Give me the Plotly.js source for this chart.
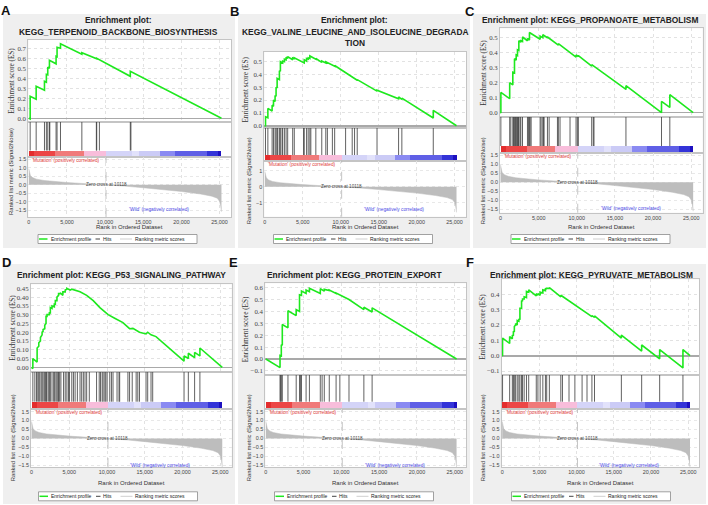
<!DOCTYPE html>
<html><head><meta charset="utf-8">
<script src="https://cdn.plot.ly/plotly-3.0.1.min.js"></script>
<style>html,body{margin:0;padding:0;background:#fff;}#chart{width:708px;height:505px;}</style>
</head><body><div id="chart"></div>
<script>
// ---------------- DATA ----------------
const ZERO_CROSS = 10118;
const metricRank  = [0, 60, 200, 500, 1000, 2000, 3000, 5000, 7500, 10118, 12500, 15000, 17500, 20000, 22500, 24000, 24700, 25000, 25150, 25250];
const metricScore = [0.95, 0.72, 0.55, 0.42, 0.33, 0.25, 0.2, 0.13, 0.06, 0, -0.08, -0.18, -0.28, -0.4, -0.55, -0.68, -0.8, -0.98, -1.25, -1.6];
const bandEdges  = [0, 700, 3450, 7200, 10120, 13500, 14450, 17180, 19140, 23350, 24850, 25250];
const bandColors = ['#e32d2d', '#ec4646', '#f07a7a', '#f8bddb', '#d4d4f8', '#e2e2fb', '#cbcbf6', '#8a8af2', '#5f5fe6', '#3333d8', '#1d10c0'];

const titleA = ['Enrichment plot:', 'KEGG_TERPENOID_BACKBONE_BIOSYNTHESIS'];
const titleB = ['Enrichment plot:', 'KEGG_VALINE_LEUCINE_AND_ISOLEUCINE_DEGRADA', 'TION'];
const titleC = ['Enrichment plot: KEGG_PROPANOATE_METABOLISM'];
const titleD = ['Enrichment plot: KEGG_P53_SIGNALING_PATHWAY'];
const titleE = ['Enrichment plot: KEGG_PROTEIN_EXPORT'];
const titleF = ['Enrichment plot: KEGG_PYRUVATE_METABOLISM'];

const esRankA  = [0, 175, 175, 960, 960, 2050, 2050, 2300, 2300, 2480, 2480, 2700, 2700, 3570, 3570, 3700, 3700, 4150, 4150, 6950, 6950, 8900, 8900, 13300, 13300, 25250];
const esScoreA = [0, -0.007, 0.22, 0.19, 0.32, 0.28, 0.37, 0.36, 0.44, 0.435, 0.51, 0.50, 0.58, 0.545, 0.62, 0.615, 0.71, 0.70, 0.745, 0.64, 0.655, 0.595, 0.60, 0.42, 0.47, 0];
const hitsA = [175, 960, 2050, 2300, 2480, 2700, 2750, 3570, 3700, 4150, 6950, 8850, 8900, 9250, 13300, 13380];

const esRankB  = [0,90,90,400,400,960,960,1140,1140,1350,1350,1480,1480,1620,1620,1920,1920,2050,2050,2350,2350,2580,2580,2800,2800,3010,3010,3670,3670,3880,3880,5190,5190,5500,5500,5710,5710,5930,5930,6720,6720,7500,7500,8030,8030,9200,9200,12170,12170,14780,14780,17620,17620,18050,18050,22190,22190,25250];
const esScoreB = [0,-0.004,0.07,0.062,0.135,0.115,0.16,0.152,0.2,0.19,0.235,0.23,0.30,0.295,0.37,0.36,0.43,0.425,0.5,0.49,0.505,0.5,0.52,0.515,0.535,0.525,0.54,0.515,0.53,0.525,0.53,0.49,0.515,0.505,0.525,0.52,0.53,0.525,0.545,0.52,0.525,0.495,0.505,0.49,0.5,0.465,0.47,0.355,0.36,0.27,0.277,0.21,0.225,0.205,0.215,0.06,0.12,0];
const hitsB = [90, 400, 960, 1140, 1350, 1480, 1620, 1700, 1920, 2050, 2270, 2350, 2580, 2800, 3010, 3670, 3880, 5100, 5190, 5500, 5710, 5930, 6060, 6720, 7500, 8030, 8240, 8900, 9200, 10640, 11510, 11820, 12170, 14780, 17620, 18050, 22190];

const esRankC  = [0,44,44,1200,1200,1610,1610,1830,1830,2050,2050,2220,2220,2400,2400,2660,2660,2880,2880,3530,3530,3790,3790,5190,5190,5540,5540,6150,6150,7580,7580,9900,9900,10200,10200,11950,11950,16440,16440,21100,21100,22190,22190,25250];
const esScoreC = [0,-0.002,0.135,0.093,0.2,0.185,0.27,0.265,0.36,0.35,0.385,0.38,0.42,0.415,0.48,0.47,0.48,0.475,0.505,0.48,0.495,0.485,0.535,0.49,0.51,0.5,0.52,0.5,0.505,0.45,0.46,0.37,0.385,0.375,0.38,0.31,0.32,0.155,0.18,0,0.075,0.035,0.12,0];
const hitsC = [44, 1200, 1350, 1610, 1700, 1830, 1960, 2050, 2140, 2220, 2350, 2400, 2570, 2660, 2880, 3530, 3660, 3790, 3880, 4010, 5190, 5320, 5540, 5620, 5710, 6150, 6370, 7460, 7580, 7800, 9110, 9900, 10070, 10200, 11950, 12160, 12250, 16440, 21100, 22190];

const esRankD  = [0,175,175,740,740,960,960,1180,1180,1400,1400,1530,1530,1750,1750,1920,1920,2050,2050,2360,2360,2490,2490,2710,2710,3015,3015,3150,3150,3365,3365,3580,3580,3800,3800,4150,4150,4460,4460,4680,4680,5110,5330,5770,6420,7300,8170,9050,10140,11010,12100,12980,13420,14290,15160,15380,15820,16480,20190,20190,20760,20760,21590,21590,22290,22290,25250];
const esScoreD = [0,-0.007,0.05,0.03,0.11,0.12,0.14,0.15,0.17,0.185,0.2,0.205,0.215,0.22,0.24,0.25,0.29,0.29,0.30,0.3,0.31,0.31,0.34,0.335,0.35,0.345,0.36,0.36,0.38,0.38,0.40,0.41,0.42,0.42,0.425,0.41,0.43,0.43,0.44,0.445,0.45,0.44,0.445,0.44,0.43,0.41,0.38,0.34,0.30,0.28,0.255,0.22,0.222,0.2,0.19,0.2,0.185,0.175,0.035,0.065,0.05,0.08,0.055,0.085,0.065,0.11,0];
const hitsD = [175, 440, 660, 830, 960, 1090, 1270, 1400, 1530, 1700, 1840, 1970, 2050, 2270, 2400, 2490, 2710, 2930, 3060, 3230, 3370, 3500, 3580, 3720, 3890, 4240, 4460, 4680, 4890, 5030, 5330, 5550, 5770, 6070, 6420, 6640, 6860, 7080, 7300, 7650, 8610, 8960, 9130, 9350, 9480, 9700, 9830, 10010, 10360, 10580, 10790, 11320, 11580, 11670, 12760, 12980, 13330, 13850, 14070, 14290, 15160, 15380, 15820, 16040, 20190, 20760, 21590, 22290];

const esRankE  = [0,1880,1880,2050,2050,2180,2180,2930,2930,4020,4020,4460,4460,4720,4720,5330,5330,5770,5770,7210,7210,7740,7740,8400,8400,9300,9300,11010,12980,12980,14070,14070,25250];
const esScoreE = [0,-0.072,0.03,0.025,0.12,0.115,0.29,0.262,0.405,0.365,0.415,0.4,0.54,0.535,0.57,0.55,0.58,0.565,0.595,0.55,0.59,0.57,0.585,0.575,0.58,0.55,0.555,0.5,0.415,0.435,0.395,0.43,0];
const hitsE = [1880, 1960, 2050, 2180, 2930, 4020, 4460, 4600, 4720, 5330, 5770, 7210, 7450, 7740, 8400, 9300, 9800, 11010, 12980, 14070];

const esRankF  = [0,44,44,1000,1000,1360,1360,1500,1500,1630,1630,1800,1800,2020,2020,2240,2240,2380,2380,2600,2600,2730,2730,2950,2950,3260,3260,3560,3560,4580,4580,4800,4800,5100,5100,5460,5460,5810,5810,5980,5980,6340,6340,7880,7880,12060,12060,12410,12410,16020,16020,18750,18750,21170,21170,24300,24300,25250];
const esScoreF = [0,-0.002,0.115,0.08,0.125,0.11,0.135,0.13,0.16,0.155,0.19,0.2,0.21,0.2,0.23,0.225,0.24,0.235,0.31,0.31,0.36,0.355,0.37,0.37,0.385,0.38,0.42,0.415,0.43,0.39,0.405,0.395,0.405,0.395,0.415,0.41,0.43,0.425,0.44,0.435,0.44,0.44,0.445,0.385,0.395,0.255,0.262,0.25,0.26,0.115,0.135,0.03,0.07,-0.02,0.04,-0.08,0.04,0];
const hitsF = [44, 1000, 1360, 1500, 1630, 1800, 2020, 2240, 2380, 2600, 2730, 2950, 3260, 3560, 4580, 4800, 5100, 5460, 5810, 5980, 6340, 7880, 8100, 8980, 9770, 10740, 11400, 12060, 12410, 16020, 18750, 21170, 24300];

// ---------------- LAYOUT GEOMETRY (pixels) ----------------
const W = 708, H = 505;
const X_RANGE = [-70, 26500];
const SANS = 'Liberation Sans, Arial, sans-serif';
const SERIF = 'Liberation Serif, Times New Roman, serif';

const panels = [
  {letter:'A', title:titleA, esR:esRankA, esS:esScoreA, hits:hitsA,
   g:{left:28.3,right:231,esTop:39.5,esBot:122,bandTop:150.5,metTop:157,metBot:217,esRange:[-0.037,0.788],esDtick:0.1,esFmt:'.1f',metRange:[-1.91,1.64],metDtick:0.5,metFmt:'.1f',titleX:118,titleY:[20,32],esTitleX:12,metTitleX:11,metTitleY:172,xTitleY:227,legX:38,legY:239,wildY:209.3,bg:[3,14,235,248],letterXY:[6,10.5]}},
  {letter:'B', title:titleB, esR:esRankB, esS:esScoreB, hits:hitsB,
   g:{left:264.3,right:466,esTop:51.7,esBot:127.5,bandTop:155,metTop:160.7,metBot:216.7,esRange:[-0.014,0.578],esDtick:0.1,esFmt:'.1f',metRange:[-1.87,1.62],metDtick:1,metFmt:'d',titleX:355,titleY:[20,32,43],esTitleX:246,metTitleX:249.3,metTitleY:181,xTitleY:226.7,legX:273.5,legY:239,wildY:209.3,bg:[238,14,470,248],letterXY:[234,11]}},
  {letter:'C', title:titleC, esR:esRankC, esS:esScoreC, hits:hitsC,
   g:{left:500,right:702.7,esTop:28.3,esBot:116.7,bandTop:146,metTop:153.3,metBot:212.7,esRange:[-0.027,0.563],esDtick:0.1,esFmt:'.1f',metRange:[-1.68,1.6],metDtick:0.5,metFmt:'.1f',titleX:590,titleY:[20],esTitleX:483.3,metTitleX:483.3,metTitleY:181,xTitleY:227.3,legX:511,legY:239,wildY:208.3,bg:[473,14,706,248],letterXY:[470,11]}},
  {letter:'D', title:titleD, esR:esRankD, esS:esScoreD, hits:hitsD,
   g:{left:31,right:231.7,esTop:284.3,esBot:371.7,bandTop:401.7,metTop:409.3,metBot:467,esRange:[-0.025,0.473],esDtick:0.05,esFmt:'.2f',metRange:[-1.6,1.63],metDtick:0.5,metFmt:'.1f',titleX:121.7,titleY:[275],esTitleX:12.7,metTitleX:13.3,metTitleY:438,xTitleY:483.3,legX:38.5,legY:496.3,wildY:465,bg:[3,264,235,504],letterXY:[6,262.5]}},
  {letter:'E', title:titleE, esR:esRankE, esS:esScoreE, hits:hitsE,
   g:{left:265.3,right:466,esTop:283.3,esBot:375,bandTop:401.7,metTop:409.3,metBot:467,esRange:[-0.134,0.636],esDtick:0.1,esFmt:'.1f',metRange:[-1.6,1.63],metDtick:0.5,metFmt:'.1f',titleX:354,titleY:[275],esTitleX:246,metTitleX:249.3,metTitleY:438,xTitleY:483.3,legX:274.5,legY:496.3,wildY:465,bg:[238,264,470,504],letterXY:[233,262]}},
  {letter:'F', title:titleF, esR:esRankF, esS:esScoreF, hits:hitsF,
   g:{left:501.7,right:699.3,esTop:279.3,esBot:375,bandTop:401.7,metTop:409.3,metBot:467,esRange:[-0.126,0.499],esDtick:0.1,esFmt:'.1f',metRange:[-1.6,1.63],metDtick:0.5,metFmt:'.1f',titleX:591.7,titleY:[275],esTitleX:482.7,metTitleX:483.3,metTitleY:438,xTitleY:483.3,legX:511.5,legY:496.3,wildY:465,bg:[473,264,706,504],letterXY:[470,262]}}
];

const fx = p => p / W;
const fy = p => 1 - p / H;
const sfx = n => (n === 1 ? '' : String(n));

const traces = [];
const layout = {
  width: W, height: H, margin: {l:0, r:0, t:0, b:0},
  paper_bgcolor: '#ffffff', plot_bgcolor: '#ffffff',
  showlegend: false, font: {family: SANS, color: '#333'},
  shapes: [], annotations: [], bargap: 0
};

function ann(o) { layout.annotations.push(Object.assign({showarrow:false, xref:'paper', yref:'paper'}, o)); }

panels.forEach((p, i) => {
  const g = p.g;
  const kE = i*3 + 1, kH = i*3 + 2, kM = i*3 + 3;
  const dom = [fx(g.left), fx(g.right)];
  const border = {showline:true, mirror:true, linecolor:'#c4c4c4', linewidth:1, zeroline:false, fixedrange:true};

  layout.shapes.push({type:'rect', xref:'paper', yref:'paper', layer:'below', x0:fx(g.bg[0]), x1:fx(g.bg[2]), y0:fy(g.bg[3]), y1:fy(g.bg[1]), fillcolor:'#efefef', line:{width:0}});
  layout.shapes.push({type:'rect', xref:'paper', yref:'paper', layer:'below', x0:dom[0], x1:dom[1], y0:fy(g.metBot), y1:fy(g.esTop), fillcolor:'#ffffff', line:{width:0}});

  layout['xaxis'+sfx(kE)] = Object.assign({}, border, {domain:dom, range:X_RANGE, anchor:'y'+sfx(kE), showticklabels:false, ticks:'', showgrid:true, gridcolor:'#e2e2e2', griddash:'dot', gridwidth:1, tick0:0, dtick:5000});
  layout['yaxis'+sfx(kE)] = Object.assign({}, border, {domain:[fy(g.esBot), fy(g.esTop)], range:g.esRange, anchor:'x'+sfx(kE), tick0:0, dtick:g.esDtick, tickformat:g.esFmt, ticks:'', showgrid:true, gridcolor:'#e2e2e2', griddash:'dot', zeroline:true, zerolinecolor:'#a9a9a9', zerolinewidth:1.6, tickfont:{family:SERIF, size:6.8, color:'#444'}});
  layout['xaxis'+sfx(kH)] = Object.assign({}, border, {domain:dom, range:X_RANGE, anchor:'y'+sfx(kH), showticklabels:false, ticks:'', showgrid:false});
  layout['yaxis'+sfx(kH)] = Object.assign({}, border, {domain:[fy(g.metTop), fy(g.esBot)], range:[0,1], anchor:'x'+sfx(kH), showticklabels:false, ticks:'', showgrid:false});
  layout['xaxis'+sfx(kM)] = Object.assign({}, border, {domain:dom, range:X_RANGE, anchor:'y'+sfx(kM), tick0:0, dtick:5000, tickformat:',', ticks:'', showgrid:true, gridcolor:'#e2e2e2', griddash:'dot', tickfont:{family:SANS, size:5.4, color:'#444'}});
  layout['yaxis'+sfx(kM)] = Object.assign({}, border, {domain:[fy(g.metBot), fy(g.metTop)], range:g.metRange, anchor:'x'+sfx(kM), tick0:0, dtick:g.metDtick, tickformat:g.metFmt, ticks:'', showgrid:true, gridcolor:'#e8e8e8', griddash:'dot', tickfont:{family:SANS, size:5.4, color:'#444'}});

  const bandFrac = (g.metTop - g.bandTop) / (g.metTop - g.esBot);

  traces.push({type:'scatter', mode:'lines', x:p.esR, y:p.esS, xaxis:'x'+sfx(kE), yaxis:'y'+sfx(kE), line:{color:'#1ee81e', width:1.6}, hoverinfo:'skip'});
  const hx = [], hy = [];
  p.hits.forEach(h => { hx.push(h, h, null); hy.push(bandFrac, 1, null); });
  traces.push({type:'scatter', mode:'lines', x:hx, y:hy, xaxis:'x'+sfx(kH), yaxis:'y'+sfx(kH), line:{color:'#3a3a3a', width:0.8}, hoverinfo:'skip'});
  const mids = [], widths = [], hts = [];
  for (let j = 0; j < bandColors.length; j++) {
    mids.push((bandEdges[j] + bandEdges[j+1]) / 2);
    widths.push(bandEdges[j+1] - bandEdges[j]);
    hts.push(bandFrac);
  }
  traces.push({type:'bar', x:mids, y:hts, width:widths, base:0, xaxis:'x'+sfx(kH), yaxis:'y'+sfx(kH), marker:{color:bandColors, line:{width:0}}, hoverinfo:'skip'});
  traces.push({type:'scatter', mode:'lines', x:metricRank, y:metricScore, fill:'tozeroy', fillcolor:'#bdbdbd', xaxis:'x'+sfx(kM), yaxis:'y'+sfx(kM), line:{color:'#bdbdbd', width:0.5}, hoverinfo:'skip'});

  layout.shapes.push({type:'line', xref:'x'+sfx(kM), yref:'y'+sfx(kM)+' domain', x0:ZERO_CROSS, x1:ZERO_CROSS, y0:0, y1:1, line:{color:'#b5b5b5', width:0.8, dash:'dash'}});
  ann({xref:'x'+sfx(kM), yref:'y'+sfx(kM), x:ZERO_CROSS, y:0, text:'Zero cross at '+ZERO_CROSS, font:{size:4.6, color:'#444'}, xanchor:'center', yanchor:'middle'});
  ann({xref:'x'+sfx(kM)+' domain', x:0.01, y:fy(g.metTop+3.3), text:"'Mutation' (positively correlated)", font:{size:4.8, color:'#e03a3a'}, xanchor:'left', yanchor:'middle'});
  ann({xref:'x'+sfx(kM)+' domain', x:0.645, y:fy(g.wildY), text:"'Wild' (negatively correlated)", font:{size:4.8, color:'#4a4ae6'}, xanchor:'center', yanchor:'middle'});

  p.title.forEach((t, j) => ann({x:fx(g.titleX), y:fy(g.titleY[j]), text:'<b>'+t+'</b>', font:{size:8.4, color:'#222'}, xanchor:'center', yanchor:'middle'}));
  ann({x:fx(g.esTitleX), y:fy((g.esTop+g.esBot)/2), text:'Enrichment score (ES)', textangle:-90, font:{family:SERIF, size:7.2, color:'#333'}, xanchor:'center', yanchor:'middle'});
  ann({x:fx(g.metTitleX), y:fy(g.metTitleY), text:'Ranked list metric (Signal2Noise)', textangle:-90, font:{size:5.9, color:'#333'}, xanchor:'center', yanchor:'middle'});
  ann({x:fx((g.left+g.right)/2), y:fy(g.xTitleY), text:'Rank in Ordered Dataset', font:{size:6, color:'#333'}, xanchor:'center', yanchor:'middle'});
  ann({x:fx(g.letterXY[0]), y:fy(g.letterXY[1]), text:'<b>'+p.letter+'</b>', font:{size:13, color:'#111'}, xanchor:'center', yanchor:'middle'});

  const lx = g.legX, ly = g.legY;
  layout.shapes.push({type:'rect', xref:'paper', yref:'paper', x0:fx(lx), x1:fx(lx+159), y0:fy(ly+4.5), y1:fy(ly-4.5), fillcolor:'#ffffff', line:{color:'#8a8a8a', width:0.8}});
  layout.shapes.push({type:'line', xref:'paper', yref:'paper', x0:fx(lx+1), x1:fx(lx+9.5), y0:fy(ly), y1:fy(ly), line:{color:'#1ee81e', width:1.5}});
  ann({x:fx(lx+10.5), y:fy(ly), text:'Enrichment profile', font:{size:5, color:'#222'}, xanchor:'left', yanchor:'middle'});
  layout.shapes.push({type:'line', xref:'paper', yref:'paper', x0:fx(lx+57.5), x1:fx(lx+62), y0:fy(ly), y1:fy(ly), line:{color:'#444', width:1}});
  ann({x:fx(lx+62.5), y:fy(ly), text:'Hits', font:{size:5, color:'#222'}, xanchor:'left', yanchor:'middle'});
  layout.shapes.push({type:'line', xref:'paper', yref:'paper', x0:fx(lx+82), x1:fx(lx+94), y0:fy(ly), y1:fy(ly), line:{color:'#cfcfcf', width:1}});
  ann({x:fx(lx+94.5), y:fy(ly), text:'Ranking metric scores', font:{size:5, color:'#222'}, xanchor:'left', yanchor:'middle'});
});

Plotly.newPlot('chart', traces, layout, {staticPlot:true, displayModeBar:false});
</script>
</body></html>
